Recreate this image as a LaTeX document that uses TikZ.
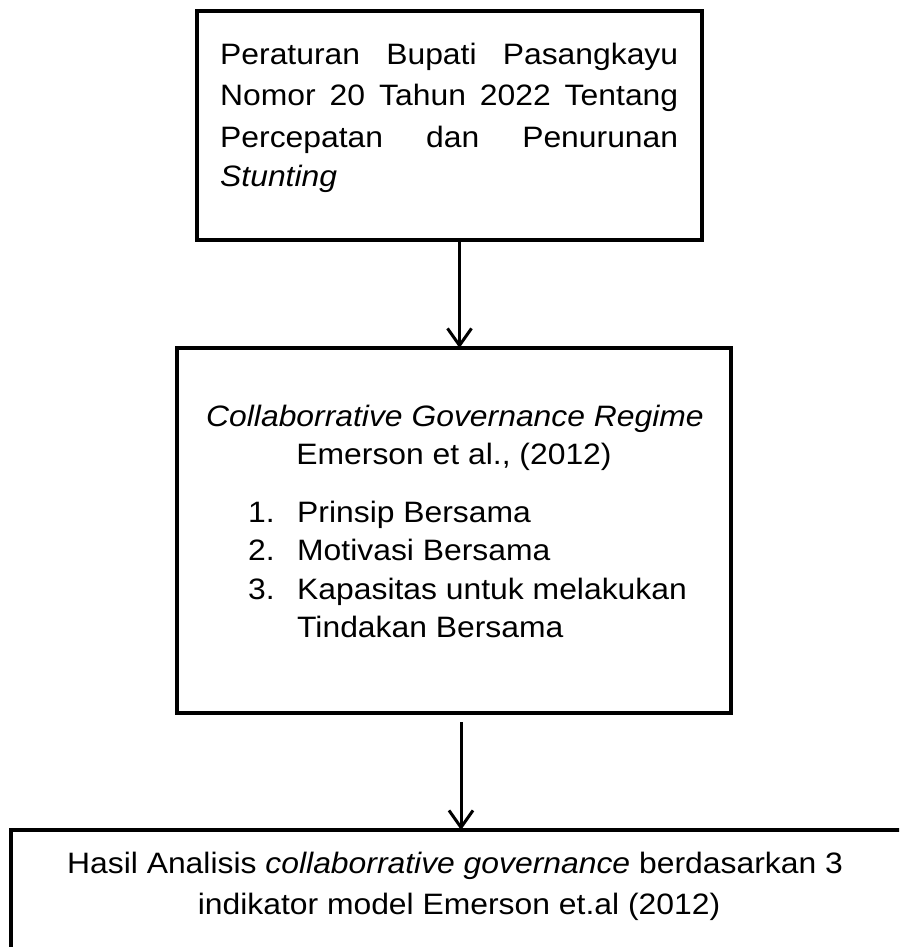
\documentclass[tikz,border=0pt]{standalone}
\usepackage{fontspec}
\setmainfont{Liberation Sans}[FakeStretch=1.08]
\usetikzlibrary{arrows.meta,calc}
\begin{document}
\begin{tikzpicture}[x=1pt,y=-1pt,
  box/.style={draw, line width=3.5pt, inner sep=0pt, outer sep=0pt},
  arr/.style={line width=3pt, -{Straight Barb[length=17pt,width=24pt]}},
  txt/.style={anchor=base, inner sep=0pt, font=\fontsize{29.5}{35}\selectfont}]
\useasboundingbox (0,0) rectangle (899,947);
\clip (0,0) rectangle (899,947);
% boxes
\node[box, minimum width=505pt, minimum height=229pt] (top) at (449.5,125.5) {};
\node[box, minimum width=554pt, minimum height=365pt] (mid) at (454,530.5) {};
\node[box, minimum width=1000pt, minimum height=240pt] (bot) at (511,950) {};
% top text
\node[txt, anchor=base west] (t1) at (220,65) {\makebox[458pt][s]{Peraturan Bupati Pasangkayu}};
\node[txt, anchor=base west] (t2) at (220,106) {\makebox[458pt][s]{Nomor 20 Tahun 2022 Tentang}};
\node[txt, anchor=base west] (t3) at (220,147) {\makebox[458pt][s]{Percepatan dan Penurunan}};
\node[txt, anchor=base west] (t4) at (220,186) {\textit{Stunting}};
% middle text
\node[txt] (m1) at (455,426) {\textit{Collaborrative Governance Regime}};
\node[txt] (m2) at (454,464) {Emerson et al., (2012)};
\node[txt, anchor=base west] (n1) at (248,522) {1.};
\node[txt, anchor=base west] (i1) at (297,522) {Prinsip Bersama};
\node[txt, anchor=base west] (n2) at (248,560) {2.};
\node[txt, anchor=base west] (i2) at (297,560) {Motivasi Bersama};
\node[txt, anchor=base west] (n3) at (248,599) {3.};
\node[txt, anchor=base west] (i3) at (297,599) {Kapasitas untuk melakukan};
\node[txt, anchor=base west] (i4) at (297,637) {Tindakan Bersama};
% bottom text
\node[txt] (b1) at (455,873) {Hasil Analisis \textit{collaborrative governance} berdasarkan 3};
\node[txt] (b2) at (459,914) {indikator model Emerson et.al (2012)};
% arrows
\coordinate (a1) at ([xshift=10pt]top.south);
\draw[arr] (a1) -- (a1 |- mid.north);
\coordinate (a2) at ([xshift=7pt,yshift=-9pt]mid.south);
\draw[arr] (a2) -- (a2 |- bot.north);
\end{tikzpicture}
\end{document}
